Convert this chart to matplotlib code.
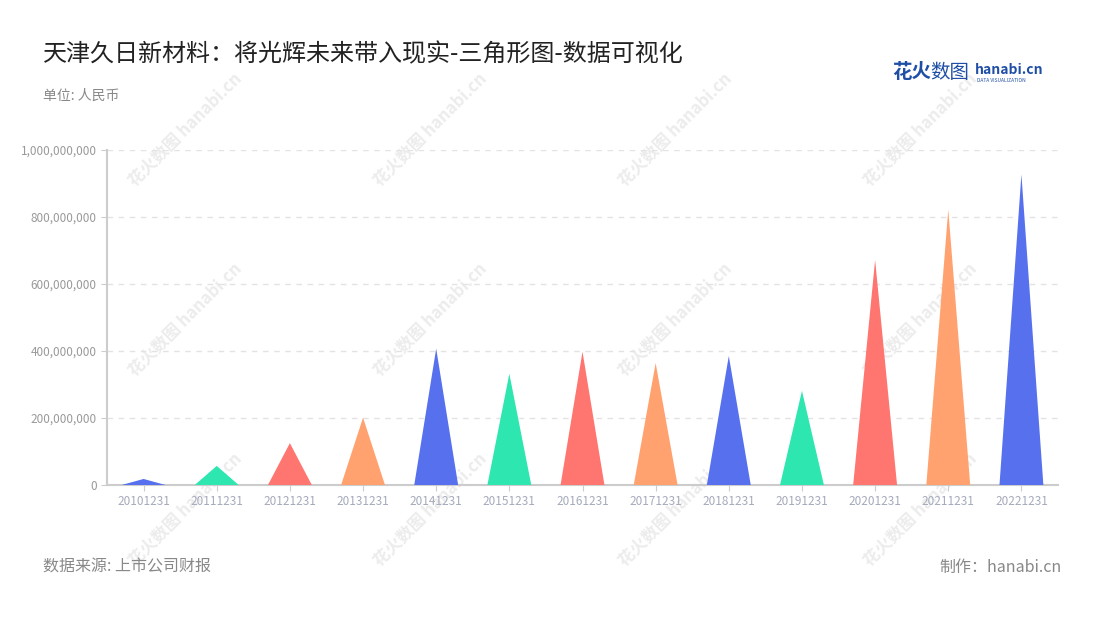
import numpy as np
import matplotlib.pyplot as plt
from matplotlib.ticker import FuncFormatter

plt.rcParams['font.family'] = ['Noto Sans CJK SC', 'DejaVu Sans']

# data
dates = ["20101231", "20111231", "20121231", "20131231", "20141231", "20151231", "20161231",
         "20171231", "20181231", "20191231", "20201231", "20211231", "20221231"]
values = [18e6, 57e6, 125e6, 201e6, 407e6, 332e6, 398e6,
          364e6, 385e6, 281e6, 672e6, 822e6, 927e6]
palette = ["#5670EE", "#2DE6B0", "#FF7570", "#FFA270"]

fig = plt.figure(figsize=(11, 6.2), dpi=100)
ax = fig.add_axes([107 / 1100, 135 / 620, 951 / 1100, 335 / 620])

# faint watermark grid, kept behind the chart
for wx in [185, 430, 675, 920]:
    for wy in [130, 320, 510]:
        fig.text(wx / 1100, 1 - wy / 620, "花火数图 hanabi.cn", rotation=45, fontsize=12,
                 color="#ececec", ha="center", va="center", fontweight="bold", zorder=-1)

# triangles
half = 0.3
for i, v in enumerate(values):
    ax.fill([i - half, i, i + half], [0, v, 0], color=palette[i % 4], lw=0, zorder=3)

ax.set_xlim(-0.5, len(dates) - 0.5)
ax.set_ylim(0, 1e9)
ax.set_xticks(range(len(dates)))
ax.set_xticklabels(dates)
ax.set_yticks(np.arange(0, 1.01e9, 2e8))
ax.yaxis.set_major_formatter(FuncFormatter(lambda v, p: f"{v:,.0f}"))
ax.tick_params(axis="both", colors="#cccccc", labelcolor="#999999", labelsize=8.5, length=4)
ax.tick_params(axis="x", pad=3, labelcolor="#a5aabb")
ax.grid(axis="y", color="#e3e3e3", linestyle=(0, (4, 4)), linewidth=1)
ax.set_axisbelow(True)
for s in ["top", "right"]:
    ax.spines[s].set_visible(False)
for s in ["left", "bottom"]:
    ax.spines[s].set_color("#cccccc")
    ax.spines[s].set_linewidth(1.5)
ax.patch.set_alpha(0)

fig.text(43 / 1100, 1 - 54 / 620, "天津久日新材料：将光辉未来带入现实-三角形图-数据可视化",
         fontsize=17.3, color="#222222", va="center")
fig.text(43 / 1100, 1 - 96 / 620, "单位: 人民币", fontsize=10, color="#888888", va="center")
fig.text(43 / 1100, 1 - 567 / 620, "数据来源: 上市公司财报", fontsize=11.5, color="#888888", va="center")
fig.text(1062 / 1100, 1 - 567 / 620, "制作：hanabi.cn", fontsize=11.5, color="#888888",
         va="center", ha="right")

# logo
fig.text(892 / 1100, 1 - 73 / 620, "花火", fontsize=14, color="#1f4fa5", va="center", fontweight="bold")
fig.text(930 / 1100, 1 - 73 / 620, "数图", fontsize=14, color="#1f4fa5", va="center")
fig.text(975 / 1100, 1 - 70 / 620, "hanabi.cn", fontsize=10, color="#1f4fa5", va="center",
         fontweight="bold")
fig.text(977 / 1100, 1 - 80 / 620, "DATA VISUALIZATION", fontsize=3.5, color="#1f4fa5", va="center")

fig.savefig("out.png", dpi=100)
